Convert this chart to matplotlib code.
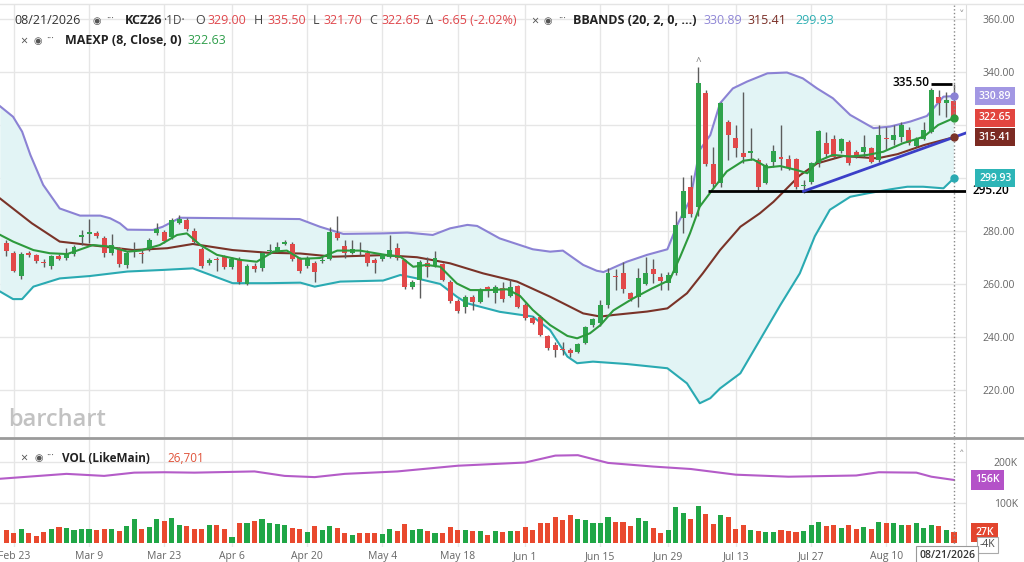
#KCZ26 daily chart with Bollinger bands, EMA(8) and volume
#Values

import numpy as np
import pandas as pd
import matplotlib
matplotlib.use('Agg')
import matplotlib.pyplot as plt
from matplotlib.lines import Line2D
from matplotlib.transforms import blended_transform_factory

plt.rcParams['font.family'] = ['Open Sans', 'DejaVu Sans']

#Trading days (ICE holidays dropped)
holidays = ['2026-04-03', '2026-05-25', '2026-06-19', '2026-07-03']
dates = pd.bdate_range('2026-02-20', '2026-08-21')
dates = dates[~dates.isin(pd.to_datetime(holidays))]

tick_dates = ['2026-02-23', '2026-03-09', '2026-03-23', '2026-04-06', '2026-04-20',
              '2026-05-04', '2026-05-18', '2026-06-01', '2026-06-15', '2026-06-29',
              '2026-07-13', '2026-07-27', '2026-08-10']
tick_labels = ['Feb 23', 'Mar 9', 'Mar 23', 'Apr 6', 'Apr 20', 'May 4', 'May 18',
               'Jun 1', 'Jun 15', 'Jun 29', 'Jul 13', 'Jul 27', 'Aug 10']

#OHLC
opens = [275.4, 271.8, 263.0, 271.6, 270.8, 268.3, 266.8, 270.6, 269.7, 271.3,
         277.8, 279.0, 279.4, 277.2, 271.6, 273.5, 267.2, 272.0, 271.8, 273.2,
         279.1, 279.8, 277.9, 283.2, 284.0, 280.1, 273.2, 267.8, 269.3, 270.1,
         266.5, 269.3, 260.0, 266.8, 265.9, 272.3, 272.5, 275.2, 275.0, 269.7,
         266.8, 267.8, 268.8, 269.3, 279.1, 274.3, 271.8, 272.8, 271.8, 269.0,
         269.3, 270.3, 273.5, 269.0, 258.7, 261.5, 267.8, 266.8, 267.5, 260.9,
         253.7, 251.4, 255.0, 253.3, 258.7, 256.5, 258.6, 255.6, 259.2, 252.1,
         247.0, 247.7, 240.3, 237.0, 235.3, 235.1, 234.5, 237.6, 244.5, 245.2,
         252.1, 263.0, 264.0, 256.5, 255.0, 260.0, 265.5, 262.5, 260.5, 264.0,
         284.8, 296.7, 289.2, 331.9, 305.3, 298.0, 321.3, 315.0, 309.6, 309.6,
         306.8, 298.2, 306.2, 308.1, 307.0, 307.0, 297.0, 298.6, 305.5, 313.1,
         314.6, 310.3, 313.7, 309.9, 309.9, 311.2, 306.8, 315.2, 314.3, 315.6,
         318.1, 312.1, 314.6, 317.5, 330.7, 328.4, 329.0]
highs = [276.5, 272.5, 272.0, 272.4, 271.3, 269.6, 271.0, 271.3, 273.5, 274.8,
         280.3, 284.4, 280.0, 278.0, 279.0, 274.0, 272.5, 275.8, 273.0, 277.5,
         283.0, 280.5, 284.8, 286.0, 284.8, 281.0, 273.8, 269.8, 270.3, 271.0,
         270.0, 270.0, 267.5, 267.8, 272.2, 275.0, 276.0, 276.5, 276.0, 270.3,
         270.5, 268.5, 270.3, 281.6, 285.7, 276.6, 276.6, 276.0, 272.8, 269.7,
         271.5, 278.5, 275.6, 269.5, 261.5, 269.2, 270.3, 272.6, 268.0, 261.5,
         254.5, 255.8, 255.8, 258.5, 259.2, 259.5, 260.9, 261.8, 259.8, 252.8,
         247.9, 248.2, 240.8, 238.2, 238.2, 236.0, 237.8, 244.0, 247.2, 253.9,
         265.9, 265.5, 268.4, 257.0, 265.9, 270.3, 269.3, 264.0, 264.5, 287.4,
         300.5, 301.1, 342.0, 333.1, 311.6, 328.8, 322.0, 320.0, 332.6, 318.7,
         307.4, 305.5, 312.4, 320.0, 308.6, 307.6, 299.3, 306.2, 318.1, 317.5,
         316.2, 315.2, 314.3, 310.6, 316.2, 311.8, 320.0, 319.4, 320.0, 321.3,
         319.4, 315.6, 321.3, 333.8, 333.2, 332.6, 335.5]
lows = [270.5, 264.5, 262.0, 270.0, 267.8, 266.5, 265.5, 269.0, 269.0, 270.5,
        274.8, 275.3, 277.5, 270.0, 271.0, 266.5, 266.0, 270.0, 268.0, 272.5,
        278.5, 275.5, 277.0, 282.5, 280.0, 275.0, 266.0, 267.0, 265.0, 265.5,
        265.5, 260.0, 259.5, 264.5, 265.0, 271.5, 272.0, 274.8, 268.5, 264.0,
        266.0, 260.9, 267.8, 269.0, 276.6, 269.7, 271.5, 271.0, 266.8, 264.0,
        268.8, 269.7, 269.0, 258.0, 258.2, 254.6, 262.8, 266.5, 261.0, 253.0,
        249.0, 249.2, 250.2, 253.0, 255.0, 253.0, 253.3, 255.2, 251.0, 246.5,
        244.9, 240.2, 235.2, 232.6, 233.2, 232.6, 234.0, 237.2, 243.8, 244.0,
        250.8, 257.7, 256.5, 253.5, 251.5, 259.6, 260.2, 257.7, 257.7, 263.5,
        279.1, 285.4, 285.8, 304.5, 296.7, 296.7, 306.8, 308.0, 305.5, 306.8,
        295.5, 297.9, 304.3, 303.0, 303.0, 295.8, 294.2, 297.9, 304.3, 308.0,
        307.4, 309.6, 305.0, 307.4, 308.0, 305.5, 306.2, 310.6, 312.4, 313.7,
        312.4, 311.8, 314.3, 317.0, 323.8, 323.2, 321.7]
closes = [272.6, 265.0, 271.3, 271.0, 268.7, 267.9, 270.6, 269.6, 271.3, 274.1,
          278.3, 279.5, 278.1, 271.6, 274.7, 267.5, 271.6, 272.4, 271.4, 276.6,
          280.8, 276.4, 284.2, 284.7, 280.6, 276.0, 266.8, 269.1, 269.0, 266.3,
          269.4, 260.9, 266.8, 265.5, 271.6, 272.8, 274.1, 275.9, 269.4, 265.0,
          269.7, 264.6, 269.2, 279.7, 277.2, 271.6, 273.1, 272.4, 268.0, 267.8,
          270.9, 272.8, 269.7, 258.7, 260.9, 268.4, 266.3, 269.7, 261.5, 253.7,
          249.9, 255.0, 253.3, 257.7, 257.5, 258.7, 254.2, 259.0, 251.4, 247.0,
          245.4, 240.7, 235.7, 235.1, 235.0, 233.8, 237.3, 243.6, 246.7, 252.1,
          264.0, 262.6, 258.0, 254.2, 262.2, 264.0, 263.8, 261.3, 263.4, 282.3,
          295.2, 286.4, 335.7, 305.3, 297.7, 328.2, 316.2, 311.2, 308.1, 310.3,
          296.7, 304.9, 310.0, 307.0, 303.6, 296.7, 297.5, 305.5, 317.9, 309.0,
          308.1, 314.6, 305.5, 308.1, 311.8, 306.2, 316.2, 314.8, 316.2, 320.0,
          313.1, 314.6, 318.1, 333.2, 328.4, 329.3, 322.65]

#Volume in thousands
volume = [32.8, 26.2, 34.4, 24.6, 18.0, 27.9, 34.4, 39.4, 37.7, 32.8,
          36.1, 36.1, 32.8, 34.4, 34.4, 29.5, 42.6, 59.0, 34.4, 39.4,
          59.0, 55.8, 62.3, 44.3, 42.6, 34.4, 36.1, 44.3, 45.9, 34.4,
          16.4, 50.9, 50.9, 55.8, 59.0, 50.9, 47.6, 44.3, 37.7, 36.1,
          27.9, 42.6, 32.8, 42.6, 37.7, 24.6, 21.3, 24.6, 26.2, 26.2,
          22.9, 36.1, 31.1, 47.6, 32.8, 34.4, 31.1, 24.6, 26.2, 39.4,
          32.8, 32.8, 31.1, 31.1, 21.3, 29.5, 28.0, 30.5, 31.0, 39.4,
          32.8, 50.9, 49.2, 65.6, 57.4, 68.9, 60.7, 57.4, 49.2, 49.2,
          65.6, 52.5, 52.5, 42.6, 62.3, 54.1, 37.7, 26.2, 32.8, 88.6,
          73.8, 59.0, 91.9, 72.2, 47.6, 68.9, 64.0, 34.4, 44.3, 32.8,
          29.5, 27.9, 27.9, 32.8, 29.5, 27.9, 31.1, 45.9, 52.5, 42.6,
          44.3, 37.7, 44.3, 36.1, 41.0, 34.4, 52.5, 50.9, 50.9, 45.9,
          44.3, 49.2, 37.7, 45.9, 42.6, 32.8, 26.7]

#Indicator lines (bar position, value)
upper_x = [-0.8, 0.9, 2.1, 3.2, 4.9, 7.1, 9.8, 12.5, 13.8, 15.1, 16.1, 19.5, 20.8,
           23.1, 30.1, 39.0, 41.7, 44.8, 50.1, 53.3, 56.7, 59.0, 61.3, 62.6, 65.6,
           70.0, 72.3, 74.0, 76.7, 78.5, 79.4, 82.5, 85.2, 87.9, 89.2, 90.9, 92.2,
           93.6, 94.9, 96.6, 98.5, 101.2, 103.8, 105.9, 107.8, 109.9, 112.2, 115.3,
           117.5, 120.2, 122.4, 124.6, 126.0]
upper_y = [327.0, 323.1, 317.5, 308.7, 297.4, 288.5, 285.8, 285.8, 284.8, 282.9, 280.5,
           280.4, 281.6, 285.0, 284.8, 284.5, 281.6, 278.9, 279.1, 279.4, 278.5, 281.0,
           282.3, 281.9, 277.2, 273.1, 272.2, 272.6, 267.2, 265.0, 264.5, 268.4, 271.0,
           273.1, 282.3, 291.7, 310.6, 316.2, 328.2, 333.8, 336.4, 339.5, 339.8, 337.6,
           333.8, 330.1, 323.8, 318.8, 319.4, 321.3, 323.4, 330.7, 330.89]

middle_x = [-0.8, 3.4, 7.1, 11.1, 16.9, 21.4, 24.8, 30.1, 34.7, 39.1, 43.5, 50.1, 54.6,
            59.0, 63.4, 67.9, 72.3, 76.7, 79.0, 80.7, 85.2, 87.9, 90.5, 92.6, 94.9,
            97.6, 100.2, 102.0, 105.5, 107.8, 111.3, 115.8, 118.5, 122.0, 126.0]
middle_y = [292.2, 282.9, 276.0, 274.7, 272.8, 273.5, 275.1, 272.8, 271.8, 271.5, 270.3,
            270.9, 270.1, 267.8, 264.0, 260.9, 255.2, 248.9, 247.7, 248.3, 249.6, 250.8,
            256.5, 264.0, 272.8, 281.6, 286.7, 291.0, 301.0, 305.5, 308.3, 307.4, 309.0,
            312.4, 315.41]

lower_x = [-0.8, 0.9, 2.1, 3.6, 7.1, 11.1, 16.1, 20.8, 24.8, 30.1, 34.7, 39.1, 41.0,
           44.4, 50.1, 52.4, 54.6, 57.7, 59.9, 61.3, 65.6, 70.0, 72.3, 74.6, 75.9,
           78.0, 82.5, 87.9, 90.5, 92.2, 93.6, 94.9, 97.6, 100.2, 102.9, 105.5, 107.5,
           109.5, 112.2, 114.5, 117.5, 119.8, 121.9, 124.6, 126.0]
lower_y = [257.1, 254.3, 254.3, 259.0, 262.1, 263.0, 264.7, 265.3, 265.9, 260.3, 260.3,
           260.5, 259.0, 260.9, 261.3, 263.4, 262.1, 260.0, 255.2, 252.7, 249.5, 247.7,
           242.6, 232.6, 230.1, 230.7, 229.8, 228.2, 222.5, 215.0, 216.9, 220.6, 226.3,
           238.9, 252.0, 264.0, 278.0, 288.0, 292.9, 294.2, 295.7, 296.7, 296.7, 296.1,
           299.93]

ema_x = [-0.8, 0.9, 3.6, 5.8, 8.1, 10.2, 11.5, 13.8, 16.1, 17.8, 20.4, 22.7, 24.0, 25.8,
         28.0, 31.1, 33.3, 35.5, 37.3, 39.1, 41.7, 44.0, 47.0, 50.6, 52.4, 54.1, 55.9,
         57.7, 59.9, 61.7, 63.9, 66.6, 68.3, 70.0, 72.3, 74.6, 75.9, 77.6, 79.0, 80.7,
         83.3, 85.9, 88.2, 89.6, 90.9, 92.2, 94.0, 95.8, 98.0, 99.3, 101.2, 102.9,
         105.1, 106.5, 107.8, 109.9, 112.2, 114.5, 116.6, 119.2, 122.0, 123.9, 126.0]
ema_y = [278.5, 276.0, 272.8, 271.6, 271.3, 273.4, 274.7, 274.1, 272.2, 272.6, 274.7,
         278.5, 279.1, 274.7, 271.0, 269.1, 268.4, 272.2, 272.6, 269.5, 269.8, 272.6,
         272.6, 270.9, 270.3, 266.5, 267.2, 266.5, 260.2, 257.7, 257.7, 258.0, 255.5,
         250.2, 244.5, 240.4, 239.5, 241.4, 244.5, 250.0, 254.5, 258.4, 261.5, 270.3,
         279.1, 289.2, 296.0, 302.5, 306.5, 307.0, 304.0, 304.5, 303.0, 301.8, 306.2,
         308.7, 308.1, 308.7, 309.9, 313.1, 315.6, 320.0, 322.63]

volma_x = [-0.8, 8, 13, 17, 21, 25, 33, 37, 41, 45, 52, 60, 69, 73, 76, 80, 86, 91,
           97, 104, 113, 116, 121, 123, 126]
volma_y = [159, 171, 166, 174, 175, 174, 177, 166, 163, 171, 177, 191, 199, 216, 217,
           198, 189, 183, 169, 164, 167, 175, 174, 164, 156]

#Drawn annotations
support_x = [93.3, 127.6]
support_y = [295.2, 295.2]
trend_x = [106.0, 127.7]
trend_y = [295.0, 317.1]
high_x = [122.9, 125.7]
high_y = [335.5, 335.5]

#Colours
GREEN = '#2fa34c'
RED = '#e2494a'
VGREEN = '#20a646'
VRED = '#e9492e'
UPPER_C = '#8b82d4'
MID_C = '#7a3328'
LOW_C = '#2aaab2'
EMA_C = '#2d9a3c'
GRID = '#e6e6e6'

idx = np.arange(len(dates))
o = np.array(opens)
h = np.array(highs)
l = np.array(lows)
c = np.array(closes)
up = c >= o
tick_pos = [int(np.where(dates == pd.Timestamp(d))[0][0]) for d in tick_dates]

W, H = 1024, 562
def frect(x0, y0, x1, y1):
    return [x0 / W, 1 - y1 / H, (x1 - x0) / W, (y1 - y0) / H]

fig = plt.figure(figsize=(W / 100, H / 100), dpi=100)
ax = fig.add_axes(frect(0, 5, 966, 437))
axv = fig.add_axes(frect(0, 440, 966, 547))

for a in (ax, axv):
    a.set_xlim(-0.84, 127.6)
    a.set_xticks(tick_pos)
    a.grid(True, color=GRID, lw=1)
    a.set_axisbelow(True)
    for s in a.spines.values():
        s.set_visible(False)
    a.spines['right'].set_visible(True)
    a.spines['right'].set_color('#dddddd')
    a.yaxis.tick_right()
    a.axvline(126, color='#888888', ls=':', lw=1, zorder=6)

#Price panel
ax.set_ylim(202.26, 365.28)
ax.set_yticks(range(220, 361, 20))
ax.set_yticklabels(['%.2f' % v if v not in (300, 320) else '' for v in range(220, 361, 20)])
ax.tick_params(axis='y', length=0, pad=12, labelsize=7.5, labelcolor='#666666')
ax.tick_params(axis='x', length=0, labelbottom=False)

band_px = np.concatenate([upper_x, lower_x[::-1]])
band_py = np.concatenate([upper_y, lower_y[::-1]])
ax.fill(band_px, band_py, color='#e2f4f5', lw=0, zorder=1)
ax.plot(upper_x, upper_y, color=UPPER_C, lw=1.5, zorder=2)
ax.plot(lower_x, lower_y, color=LOW_C, lw=1.5, zorder=2)
ax.plot(middle_x, middle_y, color=MID_C, lw=1.5, zorder=2)
ax.plot(ema_x, ema_y, color=EMA_C, lw=1.5, zorder=5)

ax.vlines(idx, l, h, color='#5c5c5c', lw=1, zorder=3)
body_low = np.minimum(o, c)
body_h = np.maximum(np.abs(c - o), 0.4)
ax.bar(idx, body_h, bottom=body_low, width=0.66,
       color=np.where(up, GREEN, RED), edgecolor='none', zorder=4)

ax.plot(support_x, support_y, color='black', lw=2, zorder=6, solid_capstyle='butt')
ax.plot(trend_x, trend_y, color='#3b3fc8', lw=2, zorder=6)
ax.plot(high_x, high_y, color='black', lw=2, zorder=6, solid_capstyle='butt')
ax.text(122.7, 336.2, '335.50', ha='right', va='center', fontsize=8.5, color='black',
        weight='semibold', zorder=7)
ax.text(92, 343.5, '^', ha='center', va='center', fontsize=7, color='#777777', zorder=7)
ax.text(1.007, 295.2, '295.20', transform=blended_transform_factory(ax.transAxes, ax.transData),
        ha='left', va='center', fontsize=8.5, color='black', weight='semibold', clip_on=False)

for val, col in [(upper_y[-1], UPPER_C), (ema_y[-1], EMA_C), (middle_y[-1], MID_C), (lower_y[-1], LOW_C)]:
    ax.plot(126, val, 'o', ms=5, color=col, zorder=8)

trans = blended_transform_factory(ax.transAxes, ax.transData)
for val, col in [(330.89, '#a297e3'), (322.65, '#e2453f'), (315.41, '#7b2a22'), (299.93, '#2db5b7')]:
    ax.text(1.0135, val, '%.2f' % val, transform=trans, ha='left', va='center', fontsize=7.5,
            color='white', weight='semibold', clip_on=False,
            bbox=dict(boxstyle='square,pad=0.35', fc=col, ec='none'))

#Volume panel
axv.set_ylim(-9.1, 254.4)
axv.set_yticks([100, 200])
axv.set_yticklabels(['100K', '200K'])
axv.tick_params(axis='y', length=0, pad=20, labelsize=7.5, labelcolor='#666666')
axv.set_xticklabels(tick_labels)
axv.tick_params(axis='x', length=0, pad=3, labelsize=7.5, labelcolor='#666666')
axv.bar(idx, volume, width=0.68, color=np.where(up, VGREEN, VRED), edgecolor='none', zorder=3)
axv.plot(volma_x, volma_y, color='#b45cc8', lw=1.5, zorder=4)

transv = blended_transform_factory(axv.transAxes, axv.transData)
axv.text(1.0095, 156, '156K', transform=transv, ha='left', va='center', fontsize=7.5, color='white',
         weight='semibold', clip_on=False, bbox=dict(boxstyle='square,pad=0.4', fc='#b452c8', ec='none'))
axv.text(1.0095, 26.7, '27K', transform=transv, ha='left', va='center', fontsize=7.5, color='white',
         weight='semibold', clip_on=False, bbox=dict(boxstyle='square,pad=0.4', fc='#e2452e', ec='none'))
axv.text(1.014, -4, '-4K', transform=transv, ha='left', va='center', fontsize=7.5, color='#444444',
         clip_on=False, bbox=dict(boxstyle='square,pad=0.25', fc='white', ec='#aaaaaa', lw=0.8))

#Separators and header texts
fig.add_artist(Line2D([0, 1], [1 - 437.5 / H, 1 - 437.5 / H], color='#9a9a9a', lw=2))
fig.add_artist(Line2D([0, 1], [1 - 4 / H, 1 - 4 / H], color='#e4e4e4', lw=1))

def put(x, y, s, color='#444444', size=9, weight='normal', family=None, ha='left'):
    kw = {}
    if family:
        kw['family'] = family
    fig.text(x / W, 1 - y / H, s, color=color, fontsize=size, weight=weight, ha=ha, va='center', **kw)

TRED = '#e0474c'
put(14, 21, '08/21/2026', '#333333')
put(97, 21, '◉', '#555555', 7, family=['DejaVu Sans'], ha='center')
put(110, 19, '···', '#555555', 7, ha='center')
put(125, 21, 'KCZ26', '#222222', weight='bold')
put(163, 21, '·1D·', '#444444', 8.5)
put(195, 21, 'O', '#444444')
put(208, 21, '329.00', TRED)
put(254, 21, 'H', '#444444')
put(267, 21, '335.50', TRED)
put(313, 21, 'L', '#444444')
put(323, 21, '321.70', TRED)
put(369, 21, 'C', '#444444')
put(381, 21, '322.65', TRED)
put(426, 21, 'Δ', '#444444')
put(438, 21, '-6.65 (-2.02%)', TRED)

put(531, 21, '×', '#555555')
put(548, 21, '◉', '#555555', 7, family=['DejaVu Sans'], ha='center')
put(562, 19, '···', '#555555', 7, ha='center')
put(573, 21, 'BBANDS (20, 2, 0, ...)', '#222222', weight='bold')
put(703, 21, '330.89', '#8f86d6')
put(748, 21, '315.41', '#7a2e26')
put(795, 21, '299.93', '#2fb0b4')

put(20, 41, '×', '#555555')
put(38, 41, '◉', '#555555', 7, family=['DejaVu Sans'], ha='center')
put(50, 39, '···', '#555555', 7, ha='center')
put(65, 41, 'MAEXP (8, Close, 0)', '#222222', weight='bold')
put(188, 41, '322.63', '#2f9e4b')

put(20, 458, '×', '#555555')
put(39, 458, '◉', '#555555', 7, family=['DejaVu Sans'], ha='center')
put(50, 456, '···', '#555555', 7, ha='center')
put(62, 458, 'VOL (LikeMain)', '#222222', 8.5, weight='bold')
put(167, 458, '26,701', '#e0533a', 8.5)

put(8, 420, 'barchart', '#c2c2c2', 17, weight='semibold')
put(962, 16, '˅', '#999999', 8, ha='center')
put(962, 456, '˄', '#999999', 8, ha='center')

fig.text(947 / W, 1 - 555 / H, '08/21/2026', color='#333333', fontsize=7.5, weight='semibold',
         ha='center', va='center', bbox=dict(boxstyle='square,pad=0.3', fc='white', ec='#999999', lw=0.8))

fig.savefig('out.png', dpi=100)
